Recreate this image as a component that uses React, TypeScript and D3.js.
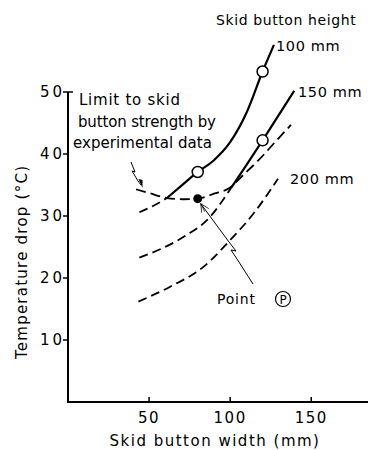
import React from "react";
import * as d3 from "d3";

// ---- data ----
const yTicks = [10, 20, 30, 40, 50];
const xTicks = [50, 100, 150];

// 100 mm curve: dashed below the limit line, solid above
const h100DashX = [44, 53, 61];
const h100DashY = [30.6, 31.7, 32.9];
const h100SolidX = [61, 70, 80, 90, 100, 110, 120, 127];
const h100SolidY = [32.9, 34.9, 37.1, 39.0, 41.9, 46.6, 53.3, 57.6];
const h100OpenX = [80, 120];
const h100OpenY = [37.1, 53.3];

// 150 mm curve
const h150DashX = [44, 59, 73, 86, 100.5];
const h150DashY = [23.3, 24.9, 26.9, 29.4, 34.5];
const h150SolidX = [100.5, 110, 120, 139.5];
const h150SolidY = [34.5, 38.2, 42.2, 50.2];
const h150OpenX = [120];
const h150OpenY = [42.2];

// 200 mm curve
const h200X = [43.4, 63, 83.5, 100, 114.4, 129.5];
const h200Y = [16.2, 18.6, 21.8, 26.1, 30.4, 36.0];

// limit to skid button strength
const limitX = [42, 50, 61, 71, 80, 90, 100, 108, 117.5, 129, 137.5];
const limitY = [34.3, 33.7, 32.9, 32.7, 32.8, 33.6, 34.6, 36.6, 39.0, 42.3, 44.7];

// point P
const pointPX = [80];
const pointPY = [32.8];

const curveLabels = ["100 mm", "150 mm", "200 mm"];
const limitText = ["Limit to skid", "button strength by", "experimental data"];

const W = 368;
const H = 450;
const FONT = "'DejaVu Sans', 'Liberation Sans', sans-serif";

export default function App() {
  const x = d3.scaleLinear().domain([0, 185]).range([68, 368]);
  const y = d3.scaleLinear().domain([0, 50]).range([402, 92]);

  const line = (xs: number[], ys: number[]) =>
    d3
      .line<number>()
      .x((_, i) => x(xs[i]))
      .y((_, i) => y(ys[i]))
      .curve(d3.curveMonotoneX)(xs) as string;

  const dash = "9 5";
  const x0 = x(0);
  const yTop = y(50);
  const yBase = y(0);
  const px = x(pointPX[0]);
  const py = y(pointPY[0]);

  return (
    <svg
      width={W}
      height={H}
      viewBox={`0 0 ${W} ${H}`}
      style={{ position: "absolute", left: 0, top: 0, background: "#fff" }}
      fontFamily={FONT}
    >
      <rect width={W} height={H} fill="#fff" />
      {/* axes */}
      <line x1={x0} y1={yTop} x2={x0} y2={yBase} stroke="#000" strokeWidth={2} />
      <line x1={x0 - 1} y1={yBase} x2={W} y2={yBase} stroke="#000" strokeWidth={2} />
      <line x1={x0} y1={yTop} x2={x0 + 5} y2={yTop} stroke="#000" strokeWidth={1.5} />
      {yTicks.map((t) => (
        <g key={"y" + t}>
          <line x1={x0 - 5} x2={x0} y1={y(t)} y2={y(t)} stroke="#000" strokeWidth={1.5} />
          <text
            x={x0 - 3}
            y={y(t)}
            dy="0.36em"
            textAnchor="end"
            fontSize={15}
            letterSpacing={3}
          >
            {t}
          </text>
        </g>
      ))}
      {xTicks.map((t) => (
        <g key={"x" + t}>
          <line x1={x(t)} x2={x(t)} y1={yBase} y2={yBase - 5} stroke="#000" strokeWidth={1.5} />
          <text x={x(t)} y={423} textAnchor="middle" fontSize={15} letterSpacing={1.5}>
            {t}
          </text>
        </g>
      ))}
      <text x={215} y={446} textAnchor="middle" fontSize={15} letterSpacing={1.5}>
        Skid button width (mm)
      </text>
      <text
        transform={`translate(27,${263 + 96}) rotate(-90)`}
        fontSize={15}
        textLength={193}
        lengthAdjust="spacing"
      >
        Temperature drop (°C)
      </text>

      {/* curves */}
      <g fill="none" stroke="#000">
        <path d={line(h100DashX, h100DashY)} strokeWidth={1.8} strokeDasharray={dash} />
        <path d={line(h100SolidX, h100SolidY)} strokeWidth={2.2} />
        <path d={line(h150DashX, h150DashY)} strokeWidth={1.8} strokeDasharray={dash} />
        <path d={line(h150SolidX, h150SolidY)} strokeWidth={2.2} />
        <path d={line(h200X, h200Y)} strokeWidth={1.8} strokeDasharray={dash} />
        <path d={line(limitX, limitY)} strokeWidth={1.8} strokeDasharray="10 5" />
      </g>
      {h100OpenX.map((v, i) => (
        <circle key={"o1" + i} cx={x(v)} cy={y(h100OpenY[i])} r={5.5} fill="#fff" stroke="#000" strokeWidth={1.5} />
      ))}
      {h150OpenX.map((v, i) => (
        <circle key={"o2" + i} cx={x(v)} cy={y(h150OpenY[i])} r={5.5} fill="#fff" stroke="#000" strokeWidth={1.5} />
      ))}
      {pointPX.map((v, i) => (
        <circle key={"p" + i} cx={x(v)} cy={y(pointPY[i])} r={4.5} fill="#000" />
      ))}

      {/* curve labels */}
      <text x={216} y={25} fontSize={14} letterSpacing={0.6}>
        Skid button height
      </text>
      <text x={276} y={51} fontSize={14.5} letterSpacing={0.6}>
        {curveLabels[0]}
      </text>
      <text x={298} y={97} fontSize={14.5} letterSpacing={0.6}>
        {curveLabels[1]}
      </text>
      <text x={290} y={184} fontSize={14.5} letterSpacing={0.6}>
        {curveLabels[2]}
      </text>

      {/* limit annotation */}
      {limitText.map((s, i) => (
        <text
          key={s}
          x={[79, 78, 73][i]}
          y={105 + i * 21.5}
          fontSize={15}
          textLength={[101, 138, 139][i]}
          lengthAdjust="spacing"
        >
          {s}
        </text>
      ))}
      <polyline
        points="131,162 135,172 132,171 138,181 141,185"
        fill="none"
        stroke="#000"
        strokeWidth={1}
      />
      <path d="M142.5,188 L138.5,179 L142.5,180 Z" fill="#000" />

      {/* point P annotation */}
      <polyline
        points={`${px + 3},${py + 5} 229,242 236,251 231,250 237,259 253,284`}
        fill="none"
        stroke="#000"
        strokeWidth={1}
      />
      <path
        d={`M${px + 3},${py + 5} l1,9 M${px + 3},${py + 5} l8,5 M${px + 3},${py + 5} l4,8`}
        stroke="#000"
        strokeWidth={0.8}
        fill="none"
      />
      <text x={217} y={304} fontSize={14} letterSpacing={0.8}>
        Point
      </text>
      <circle cx={283} cy={299} r={7.5} fill="none" stroke="#000" strokeWidth={1.2} />
      <text x={283} y={303.5} fontSize={12} textAnchor="middle">
        P
      </text>
    </svg>
  );
}
